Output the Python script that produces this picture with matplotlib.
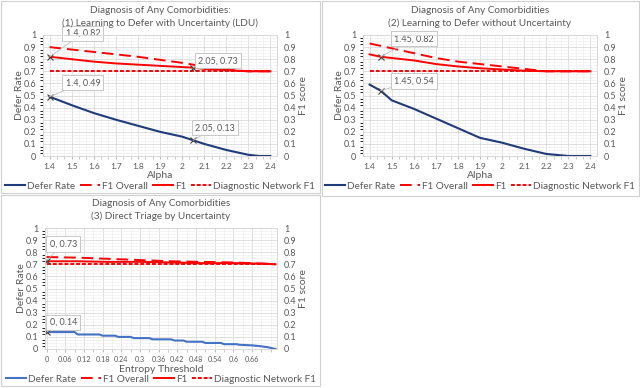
import matplotlib
matplotlib.use("Agg")
import matplotlib.pyplot as plt
from matplotlib.ticker import MultipleLocator
from matplotlib.patches import Rectangle
from matplotlib.lines import Line2D

plt.rcParams['font.family'] = ['Lato', 'DejaVu Sans']

# chart (1) LDU
alpha1 = [1.4, 1.5, 1.6, 1.7, 1.8, 1.9, 2.0, 2.05, 2.1, 2.2, 2.3, 2.35, 2.4]
defer1 = [0.49, 0.42, 0.355, 0.30, 0.25, 0.20, 0.16, 0.13, 0.10, 0.05, 0.01, 0.0, 0.0]
f1_overall1 = [0.90, 0.88, 0.86, 0.84, 0.82, 0.795, 0.77, 0.755, 0.74, 0.715, 0.70, 0.70, 0.70]
f1_1 = [0.82, 0.80, 0.78, 0.765, 0.755, 0.745, 0.735, 0.73, 0.72, 0.71, 0.70, 0.70, 0.70]
diag1 = [0.70] * len(alpha1)

# chart (2) without uncertainty
alpha2 = [1.4, 1.45, 1.5, 1.6, 1.7, 1.8, 1.9, 2.0, 2.1, 2.2, 2.3, 2.4]
defer2 = [0.59, 0.54, 0.46, 0.39, 0.31, 0.23, 0.15, 0.11, 0.06, 0.017, 0.0, 0.0]
f1_overall2 = [0.93, 0.91, 0.89, 0.85, 0.81, 0.78, 0.76, 0.74, 0.72, 0.70, 0.70, 0.70]
f1_2 = [0.84, 0.82, 0.81, 0.79, 0.76, 0.74, 0.725, 0.715, 0.705, 0.70, 0.70, 0.70]
diag2 = [0.70] * len(alpha2)

# chart (3) direct triage
entropy3 = [0.0, 0.09, 0.10, 0.17, 0.18, 0.22, 0.23, 0.27, 0.28, 0.33, 0.34, 0.40, 0.41,
            0.44, 0.45, 0.50, 0.51, 0.56, 0.57, 0.61, 0.62, 0.66, 0.68, 0.71, 0.735]
defer3 = [0.14, 0.14, 0.12, 0.12, 0.11, 0.11, 0.10, 0.10, 0.09, 0.09, 0.08, 0.08, 0.07,
          0.07, 0.06, 0.06, 0.05, 0.05, 0.04, 0.04, 0.035, 0.03, 0.025, 0.015, 0.0]
entropy3_f1 = [0.0, 0.1, 0.2, 0.3, 0.4, 0.5, 0.6, 0.7, 0.735]
f1_overall3 = [0.76, 0.755, 0.745, 0.735, 0.725, 0.72, 0.715, 0.705, 0.70]
f1_3 = [0.725, 0.725, 0.72, 0.72, 0.715, 0.71, 0.71, 0.705, 0.70]
diag3 = [0.70] * len(entropy3_f1)

W, H = 640, 388
navy = '#1F3B7A'
blue = '#4472C4'
red = '#FF0000'
grey = '#595959'

fig = plt.figure(figsize=(6.4, 3.88), dpi=100)


def box(x0, y0, x1, y1):
    fig.patches.append(Rectangle((x0 / W, 1 - y1 / H), (x1 - x0) / W, (y1 - y0) / H,
                                 transform=fig.transFigure, fill=False,
                                 ec='#D0D0D0', lw=0.8))


def make_chart(rect, x, defer, xf1, f1o, f1, diag, xlim, minor, xlabel,
               title, defer_color, notes, xticks, xfs):
    l, t, r, b = rect
    ax = fig.add_axes([l / W, 1 - b / H, (r - l) / W, (b - t) / H])
    ax2 = ax.twinx()
    # both y axes run 0..1, so every line goes on the main axes
    ax.plot(x, defer, color=defer_color, lw=1.5)
    ax.plot(xf1, f1o, color=red, lw=1.4, dashes=(6, 3))
    ax.plot(xf1, f1, color=red, lw=1.4)
    ax.plot(xf1, diag, color=red, lw=1.4, dashes=(2, 1))
    for a in (ax, ax2):
        a.set_ylim(0, 1)
        a.set_xlim(*xlim)
        a.set_yticks([i / 10 for i in range(11)])
        a.set_yticklabels(['0'] + ['%.1f' % (i / 10) for i in range(1, 10)] + ['1'])
        a.tick_params(axis='y', length=0, labelsize=6.5, colors=grey, pad=5)
        for s in a.spines.values():
            s.set_color('#D9D9D9')
            s.set_linewidth(0.6)
    ax.set_xticks(xticks)
    ax.set_xticklabels([('%g' % v) for v in xticks])
    ax.xaxis.set_minor_locator(MultipleLocator(minor))
    ax.yaxis.set_minor_locator(MultipleLocator(0.025))
    ax.tick_params(axis='x', which='both', length=2, color='#BFBFBF', labelsize=xfs,
                   colors=grey, pad=3)
    ax.grid(True, which='major', color='#D9D9D9', lw=0.6)
    ax.grid(True, which='minor', color='#EFEFEF', lw=0.5)
    ax.set_axisbelow(True)
    # point labels
    for (px, py, dx, dy) in notes:
        ax.plot([px], [py], marker='x', color='#404040', ms=4, mew=0.8, zorder=5)
        ax.annotate('%g, %g' % (px, py), (px, py), xytext=(dx, dy),
                    textcoords='offset points', ha='center', va='center',
                    fontsize=6.5, color=grey, zorder=6,
                    bbox=dict(boxstyle='square,pad=0.35', fc='white',
                              ec='#BFBFBF', lw=0.6),
                    arrowprops=dict(arrowstyle='-', color='#BFBFBF', lw=0.6,
                                    shrinkA=0, shrinkB=0))
    cx = (l + r) / 2
    fig.text((l - 23) / W, 1 - (t + b) / 2 / H, 'Defer Rate', rotation=90,
             ha='center', va='center', fontsize=7.5, color=grey)
    fig.text((r + 27) / W, 1 - (t + b) / 2 / H, 'F1 score', rotation=90,
             ha='center', va='center', fontsize=7.5, color=grey)
    fig.text(cx / W, 1 - (b + 20) / H, xlabel, ha='center', va='center',
             fontsize=7.5, color=grey)
    fig.text(cx / W, 1 - (t - 18) / H, title, ha='center', va='center',
             fontsize=7.2, color=grey, linespacing=1.45)
    handles = [Line2D([], [], color=defer_color, lw=1.5),
               Line2D([], [], color=red, lw=1.4, dashes=(6, 3)),
               Line2D([], [], color=red, lw=1.4),
               Line2D([], [], color=red, lw=1.4, dashes=(2, 1))]
    ax.legend(handles, ['Defer Rate', 'F1 Overall', 'F1', 'Diagnostic Network F1'],
              loc='center', bbox_to_anchor=(cx / W, 1 - (b + 30) / H),
              bbox_transform=fig.transFigure, ncol=4, frameon=False,
              fontsize=7.2, handlelength=2.0, handletextpad=0.2, columnspacing=0.5,
              labelcolor=grey, borderpad=0)
    return ax


box(1, 1, 320, 193)
box(322, 1, 639, 196)
box(1, 195, 320, 386)

make_chart((43, 35, 277, 156), alpha1, defer1, alpha1, f1_overall1, f1_1, diag1,
           (1.37, 2.43), 0.1 / 3, 'Alpha',
           'Diagnosis of Any Comorbidities:\n(1) Learning to Defer with Uncertainty (LDU)',
           navy,
           [(1.4, 0.82, 24, 17), (2.05, 0.73, 18, 5),
            (1.4, 0.49, 24, 10), (2.05, 0.13, 16, 9)],
           [1.4, 1.5, 1.6, 1.7, 1.8, 1.9, 2.0, 2.1, 2.2, 2.3, 2.4], 6)

make_chart((363, 35, 597, 156), alpha2, defer2, alpha2, f1_overall2, f1_2, diag2,
           (1.37, 2.43), 0.1 / 3, 'Alpha',
           'Diagnosis of Any Comorbidities\n(2) Learning to Defer without Uncertainty',
           navy,
           [(1.45, 0.82, 24, 13), (1.45, 0.54, 24, 7)],
           [1.4, 1.5, 1.6, 1.7, 1.8, 1.9, 2.0, 2.1, 2.2, 2.3, 2.4], 6)

make_chart((45, 228, 277, 349), entropy3, defer3, entropy3_f1, f1_overall3, f1_3, diag3,
           (-0.005, 0.74), 0.03, 'Entropy Threshold',
           'Diagnosis of Any Comorbidities\n(3) Direct Triage by Uncertainty',
           blue,
           [(0, 0.73, 12, 12), (0, 0.14, 12, 7)],
           [0, 0.06, 0.12, 0.18, 0.24, 0.3, 0.36, 0.42, 0.48, 0.54, 0.6, 0.66], 5.2)

fig.savefig('out.png', dpi=100)
